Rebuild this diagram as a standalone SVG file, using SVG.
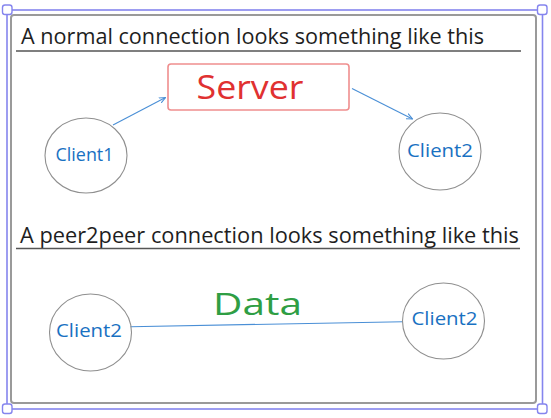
<svg xmlns="http://www.w3.org/2000/svg" width="551" height="418" viewBox="0 0 551 418">
<defs>
<marker id="ah" viewBox="0 0 10 10" refX="9" refY="5" markerWidth="7" markerHeight="7" markerUnits="userSpaceOnUse" orient="auto">
<path d="M0,1 L9,5 L0,9" fill="none" stroke="#4a8fd6" stroke-width="1.5"/>
</marker>
<style>
.sel{fill:none;stroke:#8585ee;stroke-width:1.6}
.hd{fill:#fff;stroke:#8585ee;stroke-width:1.4}
.frame{fill:none;stroke:#9a9a9a;stroke-width:2}
.title{font-family:"Open Sans","Liberation Sans",sans-serif;font-size:21px;fill:#1e1e1e}
.ul{stroke:#555;stroke-width:1.6}
.node{fill:none;stroke:#8f8f8f;stroke-width:1.1}
.cl{font-family:"Open Sans","Liberation Sans",sans-serif;font-size:18px;fill:#1971c2;text-anchor:middle}
.conn{stroke:#4a8fd6;stroke-width:1.1;fill:none}
</style>
</defs>
<rect width="551" height="418" fill="#fff"/>
<rect class="frame" x="11" y="15" width="525" height="388" rx="3"/>
<g id="title1">
<text class="title" x="21" y="44" textLength="463" lengthAdjust="spacingAndGlyphs">A normal connection looks something like this</text>
<line class="ul" x1="16" y1="51" x2="521" y2="51"/>
</g>
<g id="title2">
<text class="title" x="20" y="243" textLength="499" lengthAdjust="spacingAndGlyphs">A peer2peer connection looks something like this</text>
<line class="ul" x1="16" y1="248.5" x2="520" y2="248.5"/>
</g>
<g id="connectors">
<line class="conn" x1="113" y1="125" x2="165.5" y2="97.5" marker-end="url(#ah)"/>
<line class="conn" x1="352" y1="88.5" x2="412.5" y2="119" marker-end="url(#ah)"/>
<line class="conn" x1="130.5" y1="326.7" x2="403" y2="321.7"/>
</g>
<g id="server">
<rect x="168" y="64" width="181" height="46" rx="3" fill="#fff" stroke="#ef8e8e" stroke-width="1.6"/>
<text x="250" y="99" font-family="'Open Sans','Liberation Sans',sans-serif" font-size="33" fill="#e03131" text-anchor="middle" textLength="107" lengthAdjust="spacingAndGlyphs">Server</text>
</g>
<g id="client1">
<ellipse class="node" cx="86" cy="155.5" rx="41" ry="37.5"/>
<text class="cl" x="84.5" y="161" textLength="58" lengthAdjust="spacingAndGlyphs">Client1</text>
</g>
<g id="client2-top">
<ellipse class="node" cx="440" cy="151.5" rx="41" ry="38.5"/>
<text class="cl" x="440" y="157" textLength="66" lengthAdjust="spacingAndGlyphs">Client2</text>
</g>
<g id="client2-left">
<ellipse class="node" cx="90.5" cy="332.5" rx="41" ry="38.5"/>
<text class="cl" x="89" y="336.5" textLength="66" lengthAdjust="spacingAndGlyphs">Client2</text>
</g>
<g id="client2-right">
<ellipse class="node" cx="443.5" cy="321" rx="41" ry="38"/>
<text class="cl" x="444.5" y="325" textLength="66" lengthAdjust="spacingAndGlyphs">Client2</text>
</g>
<g id="data-label">
<text x="257.5" y="315" font-family="'Open Sans','Liberation Sans',sans-serif" font-size="31" fill="#2f9e44" text-anchor="middle" textLength="89" lengthAdjust="spacingAndGlyphs">Data</text>
</g>
<g id="selection">
<rect class="sel" x="7" y="10" width="535.5" height="399"/>
<rect class="hd" x="2.5" y="5" width="9.5" height="9.5" rx="2.5"/>
<rect class="hd" x="537.5" y="5" width="9.5" height="9.5" rx="2.5"/>
<rect class="hd" x="2.5" y="404" width="9.5" height="9.5" rx="2.5"/>
<rect class="hd" x="537.5" y="404" width="9.5" height="9.5" rx="2.5"/>
</g>
</svg>
